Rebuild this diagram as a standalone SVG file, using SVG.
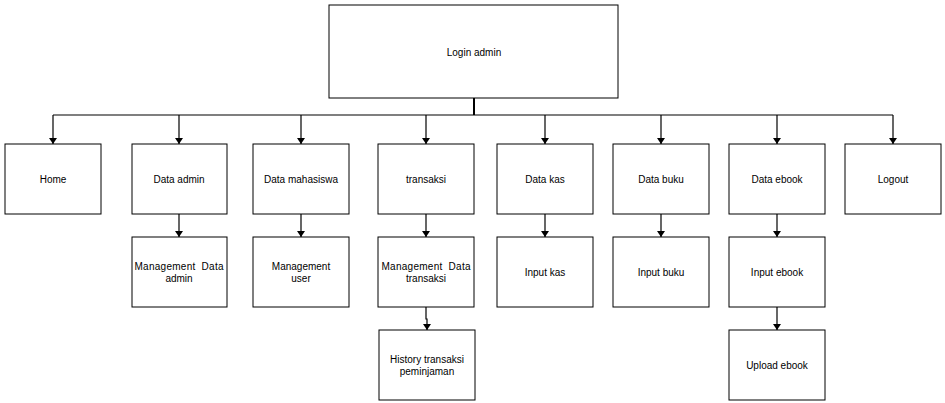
<svg xmlns="http://www.w3.org/2000/svg" width="945" height="403" viewBox="0 0 945 403">
<style>
.box{fill:#fff;stroke:#000;stroke-width:1}
.lbl{font-family:"Liberation Sans",Arial,sans-serif;font-size:10px;fill:#000;text-anchor:middle}
.con{fill:none;stroke:#000;stroke-width:1.2}
</style>
<defs>
<marker id="ah" viewBox="0 0 6 8" refX="6" refY="4" markerWidth="6" markerHeight="8" markerUnits="userSpaceOnUse" orient="auto">
<path d="M0,0 L6,4 L0,8 Z" fill="#000"/>
</marker>
</defs>
<rect width="945" height="403" fill="#fff"/>
<g id="connectors">
<path class="con" d="M474,98 V115" style="stroke-width:2"/>
<path class="con" d="M53,115 H893"/>
<path class="con" d="M53,115 V144" marker-end="url(#ah)"/>
<path class="con" d="M179,115 V144" marker-end="url(#ah)"/>
<path class="con" d="M301,115 V144" marker-end="url(#ah)"/>
<path class="con" d="M426,115 V144" marker-end="url(#ah)"/>
<path class="con" d="M545,115 V144" marker-end="url(#ah)"/>
<path class="con" d="M661,115 V144" marker-end="url(#ah)"/>
<path class="con" d="M777,115 V144" marker-end="url(#ah)"/>
<path class="con" d="M893,115 V144" marker-end="url(#ah)"/>
<path class="con" d="M179,214 V237" marker-end="url(#ah)"/>
<path class="con" d="M301,214 V237" marker-end="url(#ah)"/>
<path class="con" d="M426,214 V237" marker-end="url(#ah)"/>
<path class="con" d="M545,214 V237" marker-end="url(#ah)"/>
<path class="con" d="M661,214 V237" marker-end="url(#ah)"/>
<path class="con" d="M777,214 V237" marker-end="url(#ah)"/>
<path class="con" d="M426,307 V319 H427 V330" marker-end="url(#ah)"/>
<path class="con" d="M777,307 V330" marker-end="url(#ah)"/>
</g>
<g id="login"><rect class="box" x="329" y="5" width="289" height="93"/><text class="lbl" x="474" y="56">Login admin</text></g>
<g id="home"><rect class="box" x="5" y="144" width="96" height="70"/><text class="lbl" x="53" y="183">Home</text></g>
<g id="data-admin"><rect class="box" x="132" y="144" width="95" height="70"/><text class="lbl" x="179" y="183">Data admin</text></g>
<g id="data-mahasiswa"><rect class="box" x="253" y="144" width="96" height="70"/><text class="lbl" x="301" y="183">Data mahasiswa</text></g>
<g id="transaksi"><rect class="box" x="378" y="144" width="96" height="70"/><text class="lbl" x="426" y="183">transaksi</text></g>
<g id="data-kas"><rect class="box" x="497" y="144" width="96" height="70"/><text class="lbl" x="545" y="183">Data kas</text></g>
<g id="data-buku"><rect class="box" x="613" y="144" width="96" height="70"/><text class="lbl" x="661" y="183">Data buku</text></g>
<g id="data-ebook"><rect class="box" x="729" y="144" width="96" height="70"/><text class="lbl" x="777" y="183">Data ebook</text></g>
<g id="logout"><rect class="box" x="845" y="144" width="96" height="70"/><text class="lbl" x="893" y="183">Logout</text></g>
<g id="mgmt-admin"><rect class="box" x="132" y="237" width="95" height="70"/><text class="lbl" x="179" y="270" textLength="89" lengthAdjust="spacing" xml:space="preserve">Management  Data</text><text class="lbl" x="179" y="282">admin</text></g>
<g id="mgmt-user"><rect class="box" x="253" y="237" width="96" height="70"/><text class="lbl" x="301" y="270">Management</text><text class="lbl" x="301" y="282">user</text></g>
<g id="mgmt-transaksi"><rect class="box" x="378" y="237" width="96" height="70"/><text class="lbl" x="426" y="270" textLength="89" lengthAdjust="spacing" xml:space="preserve">Management  Data</text><text class="lbl" x="426" y="282">transaksi</text></g>
<g id="input-kas"><rect class="box" x="497" y="237" width="96" height="70"/><text class="lbl" x="545" y="276">Input kas</text></g>
<g id="input-buku"><rect class="box" x="613" y="237" width="96" height="70"/><text class="lbl" x="661" y="276">Input buku</text></g>
<g id="input-ebook"><rect class="box" x="729" y="237" width="96" height="70"/><text class="lbl" x="777" y="276">Input ebook</text></g>
<g id="history"><rect class="box" x="379" y="330" width="96" height="70"/><text class="lbl" x="427" y="363">History transaksi</text><text class="lbl" x="427" y="375">peminjaman</text></g>
<g id="upload-ebook"><rect class="box" x="729" y="330" width="96" height="70"/><text class="lbl" x="777" y="369">Upload ebook</text></g>
</svg>
